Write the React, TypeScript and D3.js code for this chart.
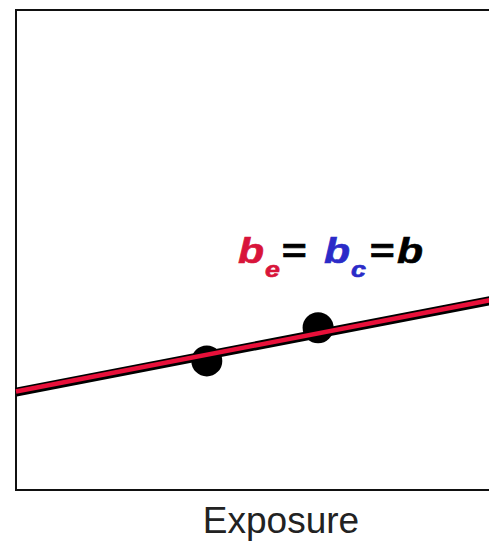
import { useEffect, useRef } from 'react';
import * as d3 from 'd3';

// observed points (exposure, outcome)
const pointX = [3.6, 5.7];
const pointY = [2.69, 3.38];

// fitted line: intercept and slope
const intercept = 2.04;
const slope = 0.213;

// formula label pieces: text, left x, whether subscript, colour
const labelParts = [
  { text: 'b', x: 238, sub: false, color: '#d8143a' },
  { text: 'e', x: 265, sub: true, color: '#d8143a' },
  { text: '=', x: 281, sub: false, color: '#000' },
  { text: 'b', x: 324, sub: false, color: '#2b2bc8' },
  { text: 'c', x: 351, sub: true, color: '#2b2bc8' },
  { text: '=', x: 369, sub: false, color: '#000' },
  { text: 'b', x: 397, sub: false, color: '#000' },
];

const App = () => {
  const ref = useRef<SVGSVGElement>(null);
  const width = 489,
    height = 542;

  useEffect(() => {
    const svg = d3.select(ref.current).attr('width', width).attr('height', height);
    svg.selectAll('*').remove();

    const x = d3.scaleLinear().domain([0, 10]).range([16, 546]);
    const y = d3.scaleLinear().domain([0, 10]).range([490, 10]);

    // frame
    svg
      .append('rect')
      .attr('x', x(0))
      .attr('y', y(10))
      .attr('width', x(10) - x(0))
      .attr('height', y(0) - y(10))
      .attr('fill', '#fff')
      .attr('stroke', '#111')
      .attr('stroke-width', 2);

    const plot = svg.append('g');

    // points
    plot
      .selectAll('circle')
      .data(pointX)
      .enter()
      .append('circle')
      .attr('cx', (d) => x(d))
      .attr('cy', (d, i) => y(pointY[i]))
      .attr('r', 15.5)
      .attr('fill', '#000');

    const lineData = [0, 10].map((v) => [v, intercept + slope * v]);
    const line = d3
      .line()
      .x((d) => x(d[0]))
      .y((d) => y(d[1]));

    plot
      .append('path')
      .attr('d', line(lineData as [number, number][]))
      .attr('stroke', '#000')
      .attr('stroke-width', 9)
      .attr('fill', 'none');

    plot
      .append('path')
      .attr('d', line(lineData as [number, number][]))
      .attr('transform', 'translate(0,-0.5)')
      .attr('stroke', '#e8103a')
      .attr('stroke-width', 4.5)
      .attr('fill', 'none');

    // formula label (glyphs look horizontally stretched in the original)
    svg
      .selectAll('text.formula')
      .data(labelParts)
      .enter()
      .append('text')
      .attr('class', 'formula')
      .attr('transform', (d) => `translate(${d.x},${d.sub ? 277 : 263}) scale(1.22,1)`)
      .attr('font-family', 'Liberation Sans, Arial, sans-serif')
      .attr('font-size', (d) => (d.sub ? 22 : 35))
      .attr('font-weight', 'bold')
      .attr('font-style', 'italic')
      .attr('fill', (d) => d.color)
      .attr('stroke', (d) => d.color)
      .attr('stroke-width', 0.6)
      .text((d) => d.text);

    // axis title
    svg
      .append('text')
      .attr('x', 281)
      .attr('y', 533)
      .attr('text-anchor', 'middle')
      .attr('font-family', 'Liberation Sans, Arial, sans-serif')
      .attr('font-size', 37)
      .attr('fill', '#222')
      .text('Exposure');
  }, []);

  return <svg ref={ref} style={{ position: 'absolute', left: 0, top: 0 }}></svg>;
};

export default App;
